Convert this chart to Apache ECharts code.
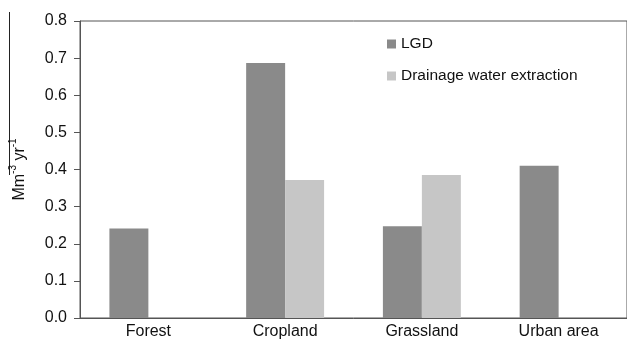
<!DOCTYPE html>
<html>
<head>
<meta charset="utf-8">
<style>
html,body{margin:0;padding:0;background:#fff;}
#chart{width:627px;height:341px;}
</style>
<script src="https://cdn.jsdelivr.net/npm/echarts@6/dist/echarts.min.js"></script>
</head>
<body>
<div id="chart"></div>
<script>
var categories = ['Forest', 'Cropland', 'Grassland', 'Urban area'];
var lgdValues = [0.241, 0.687, 0.247, 0.41];
var drainageValues = [null, 0.372, 0.385, null];
var seriesNames = ['LGD', 'Drainage water extraction'];
var yTicks = [0, 0.1, 0.2, 0.3, 0.4, 0.5, 0.6, 0.7, 0.8];

var chart = echarts.init(document.getElementById('chart'), null, {renderer: 'canvas'});
var font = 'Liberation Sans, Arial, Helvetica, sans-serif';
chart.setOption({
  animation: false,
  backgroundColor: '#ffffff',
  grid: {
    left: 80, top: 21, width: 550, bottom: 23,
    show: true, borderColor: '#555555', borderWidth: 1, backgroundColor: 'transparent'
  },
  legend: {
    orient: 'vertical',
    left: 382, top: 31,
    itemWidth: 9, itemHeight: 9, itemGap: 16,
    icon: 'rect',
    textStyle: {fontFamily: font, fontSize: 15.5, color: '#111'},
    data: seriesNames
  },
  xAxis: {
    type: 'category',
    data: categories,
    axisLine: {lineStyle: {color: '#555555', width: 1}},
    axisTick: {show: false},
    axisLabel: {fontFamily: font, fontSize: 16, color: '#111', margin: 6}
  },
  yAxis: {
    type: 'value',
    min: yTicks[0], max: yTicks[yTicks.length - 1], interval: 0.1,
    axisLine: {show: true, lineStyle: {color: '#555555', width: 1}},
    axisTick: {show: true, length: 6, lineStyle: {color: '#555555'}},
    splitLine: {show: false},
    axisLabel: {fontFamily: font, fontSize: 16, color: '#111', margin: 13,
      formatter: function (v) { return v.toFixed(1); }},
    name: '{m|Mm}{s|-3}{m| yr}{s|-1}',
    nameLocation: 'middle',
    nameRotate: 90,
    nameGap: 52,
    nameTextStyle: {
      rich: {
        m: {fontFamily: font, fontSize: 16, color: '#111', lineHeight: 20, verticalAlign: 'bottom'},
        s: {fontFamily: font, fontSize: 10, color: '#111', lineHeight: 20, verticalAlign: 'top'}
      }
    }
  },
  series: [
    {
      name: seriesNames[0], type: 'bar', data: lgdValues,
      barGap: '0%', barCategoryGap: '43%',
      itemStyle: {color: '#8a8a8a'}
    },
    {
      name: seriesNames[1], type: 'bar', data: drainageValues,
      barGap: '0%', barCategoryGap: '43%',
      itemStyle: {color: '#c6c6c6'}
    }
  ],
  graphic: [{
    type: 'line',
    shape: {x1: 9.5, y1: 12, x2: 9.5, y2: 175},
    style: {stroke: '#222', lineWidth: 1}
  }]
});
</script>
</body>
</html>
